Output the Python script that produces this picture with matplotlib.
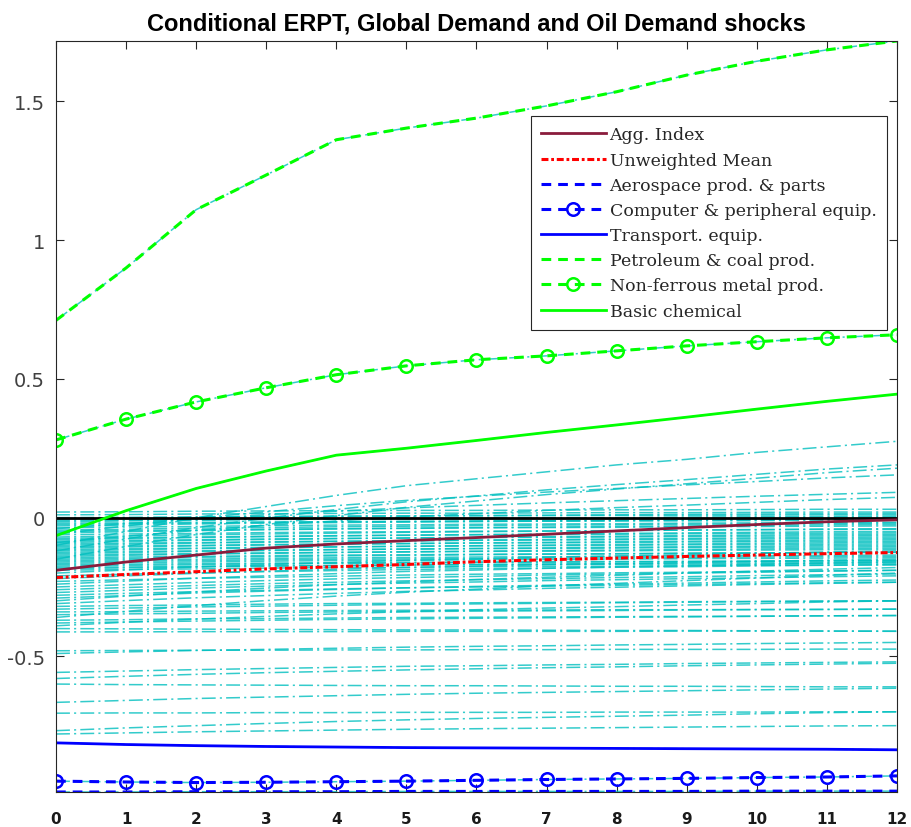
import matplotlib.pyplot as plt

plt.rcParams['lines.scale_dashes'] = False

horizon = list(range(13))

# aggregates
agg_index = [-0.19, -0.16, -0.135, -0.11, -0.095, -0.083, -0.072, -0.06, -0.048, -0.036, -0.025, -0.015, -0.008]
unweighted_mean = [-0.216, -0.205, -0.195, -0.185, -0.177, -0.169, -0.159, -0.152, -0.146, -0.14, -0.135, -0.13, -0.126]

# highlighted industries
aerospace = [-0.989, -0.989, -0.988, -0.988, -0.988, -0.987, -0.987, -0.987, -0.987, -0.987, -0.986, -0.986, -0.986]
computer = [-0.950, -0.953, -0.955, -0.954, -0.952, -0.950, -0.947, -0.944, -0.942, -0.940, -0.937, -0.935, -0.931]
transport = [-0.812, -0.818, -0.822, -0.825, -0.827, -0.829, -0.830, -0.831, -0.832, -0.833, -0.834, -0.835, -0.837]
petroleum = [0.711, 0.90, 1.11, 1.235, 1.362, 1.404, 1.44, 1.484, 1.535, 1.595, 1.645, 1.686, 1.718]
nonferrous = [0.280, 0.355, 0.417, 0.468, 0.515, 0.547, 0.569, 0.583, 0.601, 0.619, 0.634, 0.648, 0.659]
basic_chemical = [-0.065, 0.025, 0.105, 0.168, 0.225, 0.25, 0.278, 0.307, 0.334, 0.362, 0.391, 0.419, 0.445]

# remaining industries
other_industries = [
    [-0.10, -0.05, 0.00, 0.04, 0.08, 0.115, 0.14, 0.165, 0.19, 0.21, 0.235, 0.255, 0.275],
    [-0.12, -0.077, -0.036, -0.002, 0.029, 0.057, 0.078, 0.10, 0.119, 0.137, 0.156, 0.175, 0.19],
    [-0.15, -0.104, -0.061, -0.025, 0.007, 0.037, 0.06, 0.083, 0.103, 0.122, 0.142, 0.162, 0.178],
    [-0.06, -0.03, -0.002, 0.021, 0.043, 0.062, 0.077, 0.092, 0.105, 0.118, 0.13, 0.143, 0.154],
    [-0.04, -0.022, -0.005, 0.01, 0.023, 0.035, 0.044, 0.053, 0.061, 0.069, 0.077, 0.084, 0.091],
    [-0.09, -0.067, -0.046, -0.028, -0.012, 0.003, 0.014, 0.026, 0.036, 0.045, 0.055, 0.065, 0.073],
    [0.02, 0.021, 0.023, 0.024, 0.025, 0.026, 0.026, 0.027, 0.028, 0.028, 0.029, 0.03, 0.03],
    [0.01, 0.011, 0.013, 0.014, 0.015, 0.016, 0.016, 0.017, 0.018, 0.018, 0.019, 0.02, 0.02],
    [0.0, 0.001, 0.003, 0.004, 0.005, 0.006, 0.006, 0.007, 0.008, 0.008, 0.009, 0.01, 0.01],
    [-0.005, -0.002, 0.0, 0.003, 0.005, 0.006, 0.008, 0.009, 0.01, 0.012, 0.013, 0.014, 0.015],
    [-0.01, -0.009, -0.007, -0.006, -0.005, -0.004, -0.004, -0.003, -0.002, -0.002, -0.001, 0.0, 0.0],
    [-0.015, -0.012, -0.01, -0.007, -0.005, -0.004, -0.002, -0.001, 0.0, 0.002, 0.003, 0.004, 0.005],
    [-0.02, -0.019, -0.017, -0.016, -0.015, -0.014, -0.014, -0.013, -0.012, -0.012, -0.011, -0.01, -0.01],
    [-0.025, -0.022, -0.02, -0.017, -0.015, -0.014, -0.012, -0.011, -0.01, -0.008, -0.007, -0.006, -0.005],
    [-0.03, -0.027, -0.023, -0.02, -0.018, -0.016, -0.014, -0.012, -0.011, -0.009, -0.008, -0.006, -0.005],
    [-0.037, -0.034, -0.032, -0.029, -0.027, -0.026, -0.024, -0.023, -0.022, -0.02, -0.019, -0.018, -0.017],
    [-0.045, -0.042, -0.038, -0.036, -0.033, -0.031, -0.029, -0.027, -0.026, -0.024, -0.023, -0.021, -0.02],
    [-0.05, -0.047, -0.045, -0.042, -0.04, -0.039, -0.037, -0.036, -0.035, -0.033, -0.032, -0.031, -0.03],
    [-0.055, -0.051, -0.047, -0.044, -0.041, -0.038, -0.036, -0.034, -0.032, -0.03, -0.028, -0.026, -0.025],
    [-0.062, -0.059, -0.057, -0.054, -0.052, -0.051, -0.049, -0.048, -0.047, -0.045, -0.044, -0.043, -0.042],
    [-0.07, -0.066, -0.062, -0.059, -0.056, -0.053, -0.051, -0.049, -0.047, -0.045, -0.043, -0.041, -0.04],
    [-0.075, -0.072, -0.07, -0.067, -0.065, -0.064, -0.062, -0.061, -0.06, -0.058, -0.057, -0.056, -0.055],
    [-0.08, -0.076, -0.072, -0.069, -0.066, -0.063, -0.061, -0.059, -0.057, -0.055, -0.053, -0.051, -0.05],
    [-0.085, -0.082, -0.08, -0.077, -0.075, -0.074, -0.072, -0.071, -0.07, -0.068, -0.067, -0.066, -0.065],
    [-0.09, -0.086, -0.082, -0.079, -0.076, -0.073, -0.071, -0.069, -0.067, -0.065, -0.063, -0.061, -0.06],
    [-0.095, -0.092, -0.09, -0.087, -0.085, -0.084, -0.082, -0.081, -0.08, -0.078, -0.077, -0.076, -0.075],
    [-0.10, -0.096, -0.092, -0.089, -0.086, -0.083, -0.081, -0.079, -0.077, -0.075, -0.073, -0.071, -0.07],
    [-0.105, -0.102, -0.1, -0.097, -0.095, -0.094, -0.092, -0.091, -0.09, -0.088, -0.087, -0.086, -0.085],
    [-0.11, -0.106, -0.102, -0.099, -0.096, -0.093, -0.091, -0.089, -0.087, -0.085, -0.083, -0.081, -0.08],
    [-0.115, -0.112, -0.11, -0.107, -0.105, -0.104, -0.102, -0.101, -0.1, -0.098, -0.097, -0.096, -0.095],
    [-0.12, -0.116, -0.112, -0.109, -0.106, -0.103, -0.101, -0.099, -0.097, -0.095, -0.093, -0.091, -0.09],
    [-0.125, -0.122, -0.12, -0.117, -0.115, -0.114, -0.112, -0.111, -0.11, -0.108, -0.107, -0.106, -0.105],
    [-0.13, -0.126, -0.122, -0.119, -0.116, -0.113, -0.111, -0.109, -0.107, -0.105, -0.103, -0.101, -0.10],
    [-0.135, -0.132, -0.13, -0.127, -0.125, -0.124, -0.122, -0.121, -0.12, -0.118, -0.117, -0.116, -0.115],
    [-0.14, -0.136, -0.132, -0.129, -0.126, -0.123, -0.121, -0.119, -0.117, -0.115, -0.113, -0.111, -0.11],
    [-0.145, -0.142, -0.14, -0.137, -0.135, -0.134, -0.132, -0.131, -0.13, -0.128, -0.127, -0.126, -0.125],
    [-0.15, -0.147, -0.143, -0.141, -0.138, -0.136, -0.134, -0.132, -0.131, -0.129, -0.128, -0.126, -0.125],
    [-0.155, -0.152, -0.15, -0.147, -0.145, -0.144, -0.142, -0.141, -0.14, -0.138, -0.137, -0.136, -0.135],
    [-0.16, -0.157, -0.155, -0.152, -0.15, -0.149, -0.147, -0.146, -0.145, -0.143, -0.142, -0.141, -0.14],
    [-0.165, -0.162, -0.16, -0.157, -0.155, -0.154, -0.152, -0.151, -0.15, -0.148, -0.147, -0.146, -0.145],
    [-0.17, -0.168, -0.166, -0.164, -0.163, -0.161, -0.16, -0.159, -0.158, -0.158, -0.157, -0.156, -0.155],
    [-0.175, -0.172, -0.17, -0.167, -0.165, -0.164, -0.162, -0.161, -0.16, -0.158, -0.157, -0.156, -0.155],
    [-0.18, -0.178, -0.176, -0.174, -0.173, -0.171, -0.17, -0.169, -0.168, -0.168, -0.167, -0.166, -0.165],
    [-0.185, -0.181, -0.178, -0.175, -0.173, -0.171, -0.169, -0.167, -0.166, -0.164, -0.163, -0.161, -0.16],
    [-0.19, -0.187, -0.185, -0.182, -0.18, -0.179, -0.177, -0.176, -0.175, -0.173, -0.172, -0.171, -0.17],
    [-0.20, -0.189, -0.178, -0.17, -0.162, -0.154, -0.149, -0.143, -0.138, -0.134, -0.129, -0.124, -0.12],
    [-0.21, -0.204, -0.199, -0.195, -0.191, -0.187, -0.184, -0.182, -0.179, -0.177, -0.174, -0.172, -0.17],
    [-0.22, -0.21, -0.201, -0.193, -0.186, -0.18, -0.175, -0.17, -0.166, -0.162, -0.158, -0.153, -0.15],
    [-0.23, -0.224, -0.219, -0.215, -0.211, -0.207, -0.204, -0.202, -0.199, -0.197, -0.194, -0.192, -0.19],
    [-0.24, -0.229, -0.218, -0.21, -0.202, -0.194, -0.189, -0.183, -0.178, -0.174, -0.169, -0.164, -0.16],
    [-0.25, -0.242, -0.234, -0.227, -0.221, -0.216, -0.212, -0.207, -0.204, -0.2, -0.197, -0.193, -0.19],
    [-0.26, -0.252, -0.245, -0.238, -0.233, -0.228, -0.224, -0.22, -0.216, -0.213, -0.209, -0.206, -0.203],
    [-0.27, -0.262, -0.254, -0.247, -0.241, -0.236, -0.232, -0.227, -0.224, -0.22, -0.217, -0.213, -0.21],
    [-0.28, -0.273, -0.267, -0.262, -0.257, -0.253, -0.25, -0.247, -0.244, -0.241, -0.238, -0.235, -0.233],
    [-0.29, -0.281, -0.272, -0.265, -0.259, -0.253, -0.248, -0.244, -0.24, -0.236, -0.232, -0.228, -0.225],
    [-0.30, -0.283, -0.268, -0.254, -0.242, -0.232, -0.223, -0.215, -0.208, -0.20, -0.193, -0.186, -0.18],
    [-0.31, -0.299, -0.289, -0.281, -0.273, -0.266, -0.261, -0.255, -0.251, -0.246, -0.241, -0.237, -0.233],
    [-0.32, -0.317, -0.315, -0.312, -0.31, -0.309, -0.307, -0.306, -0.305, -0.303, -0.302, -0.301, -0.30],
    [-0.33, -0.326, -0.322, -0.319, -0.316, -0.313, -0.311, -0.309, -0.307, -0.305, -0.303, -0.301, -0.30],
    [-0.34, -0.339, -0.337, -0.336, -0.335, -0.334, -0.334, -0.333, -0.332, -0.332, -0.331, -0.331, -0.33],
    [-0.35, -0.347, -0.345, -0.342, -0.34, -0.339, -0.337, -0.336, -0.335, -0.333, -0.332, -0.331, -0.33],
    [-0.36, -0.338, -0.317, -0.299, -0.283, -0.269, -0.258, -0.246, -0.237, -0.227, -0.218, -0.208, -0.20],
    [-0.37, -0.368, -0.365, -0.364, -0.362, -0.36, -0.359, -0.358, -0.357, -0.356, -0.355, -0.354, -0.353],
    [-0.38, -0.376, -0.373, -0.37, -0.367, -0.365, -0.363, -0.361, -0.359, -0.358, -0.356, -0.354, -0.353],
    [-0.39, -0.377, -0.366, -0.356, -0.347, -0.339, -0.332, -0.326, -0.321, -0.315, -0.31, -0.304, -0.30],
    [-0.40, -0.401, -0.402, -0.403, -0.404, -0.405, -0.405, -0.406, -0.407, -0.407, -0.408, -0.409, -0.41],
    [-0.412, -0.412, -0.411, -0.411, -0.411, -0.41, -0.41, -0.41, -0.41, -0.409, -0.409, -0.409, -0.409],
    [-0.48, -0.479, -0.478, -0.478, -0.477, -0.477, -0.476, -0.476, -0.475, -0.475, -0.475, -0.474, -0.474],
    [-0.49, -0.484, -0.479, -0.475, -0.471, -0.467, -0.464, -0.462, -0.459, -0.457, -0.454, -0.452, -0.45],
    [-0.558, -0.553, -0.548, -0.544, -0.54, -0.536, -0.534, -0.531, -0.529, -0.526, -0.524, -0.522, -0.52],
    [-0.58, -0.572, -0.565, -0.559, -0.554, -0.549, -0.545, -0.541, -0.538, -0.534, -0.531, -0.528, -0.525],
    [-0.60, -0.602, -0.603, -0.604, -0.605, -0.606, -0.606, -0.607, -0.608, -0.608, -0.609, -0.61, -0.61],
    [-0.666, -0.659, -0.652, -0.647, -0.642, -0.637, -0.633, -0.63, -0.627, -0.624, -0.621, -0.618, -0.615],
    [-0.705, -0.704, -0.704, -0.703, -0.703, -0.702, -0.702, -0.702, -0.701, -0.701, -0.701, -0.70, -0.70],
    [-0.768, -0.758, -0.75, -0.742, -0.735, -0.729, -0.724, -0.72, -0.716, -0.712, -0.707, -0.703, -0.70],
    [-0.78, -0.776, -0.772, -0.769, -0.766, -0.763, -0.761, -0.759, -0.757, -0.755, -0.753, -0.751, -0.75],
]

labels = ['Agg. Index', 'Unweighted Mean', 'Aerospace prod. & parts',
          'Computer & peripheral equip.', 'Transport. equip.',
          'Petroleum & coal prod.', 'Non-ferrous metal prod.', 'Basic chemical']
series = [agg_index, unweighted_mean, aerospace, computer, transport,
          petroleum, nonferrous, basic_chemical]

DASH = (7, 5)
DASHDOT = (5, 2, 2, 2)
styles = [
    dict(color='#8a1c3c', lw=2.0),
    dict(color='#ff0000', lw=2.2, dashes=DASHDOT),
    dict(color='#0000ff', lw=2.2, dashes=DASH),
    dict(color='#0000ff', lw=2.2, dashes=DASH, marker='o', ms=9, mfc='none', mew=1.8),
    dict(color='#0000ff', lw=2.0),
    dict(color='#00ff00', lw=2.2, dashes=DASH),
    dict(color='#00ff00', lw=2.2, dashes=DASH, marker='o', ms=9, mfc='none', mew=1.8),
    dict(color='#00ff00', lw=2.0),
]

fig = plt.figure(figsize=(9.11, 8.28), dpi=100)
ax = fig.add_axes([0.0615, 0.0423, 0.9231, 0.907])

# every industry in cyan
cyan_lines = other_industries + [aerospace, computer, transport, petroleum, nonferrous, basic_chemical]
for path in cyan_lines:
    ax.plot(horizon, path, color='#00bfbf', lw=1.1, dashes=(10, 3, 1.5, 3), alpha=0.8)

ax.plot([0, 12], [0, 0], color='black', lw=2.0)

for lab, ys, st in zip(labels, series, styles):
    ax.plot(horizon, ys, label=lab, **st)

all_vals = [v for s in cyan_lines + series for v in s]
ax.set_xlim(0, 12)
ax.set_ylim(min(all_vals), max(all_vals))
ax.set_xticks(horizon)
ax.set_yticks([-0.5, 0, 0.5, 1, 1.5])
ax.set_yticklabels(['-0.5', '0', '0.5', '1', '1.5'])

ax.tick_params(direction='in', top=True, right=True, length=6, width=0.8, color='#262626')
ax.tick_params(axis='y', labelsize=14, labelcolor='#404040', pad=8)
ax.tick_params(axis='x', labelsize=11, labelcolor='#1a1a1a', pad=14)
for t in ax.get_xticklabels():
    t.set_fontweight('bold')
for sp in ax.spines.values():
    sp.set_color('#262626')
    sp.set_linewidth(0.8)

ax.set_title('Conditional ERPT, Global Demand and Oil Demand shocks',
             fontsize=17, fontweight='bold', family='Liberation Sans', pad=8)

leg = ax.legend(loc='upper right', bbox_to_anchor=(0.988, 0.900), borderaxespad=0,
                prop={'family': 'DejaVu Serif', 'size': 12.5}, fancybox=False,
                framealpha=1, edgecolor='#262626', handlelength=3.7, handletextpad=0.23,
                labelspacing=0.47, numpoints=1, borderpad=0.6)
leg.get_frame().set_linewidth(0.8)
for t in leg.get_texts():
    t.set_color('#262626')

fig.savefig('out.png', dpi=100)
